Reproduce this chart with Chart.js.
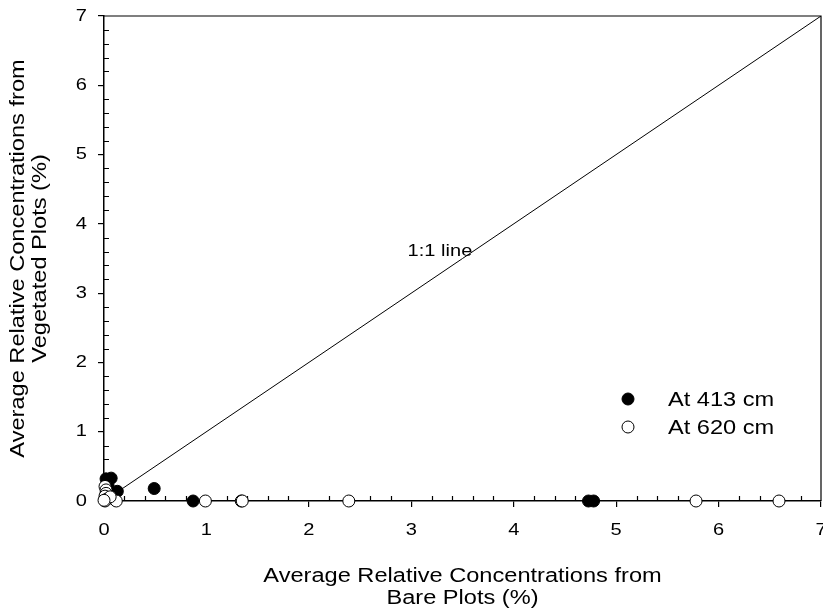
<!DOCTYPE html>
<html>
<head>
<meta charset="utf-8">
<script src="https://cdn.jsdelivr.net/npm/chart.js@4/dist/chart.umd.min.js"></script>
<style>
  html, body { margin: 0; padding: 0; background: #fff; overflow: hidden; }
  #wrap { width: 823px; height: 609px; }
</style>
</head>
<body>
<div id="wrap"><canvas id="c" width="823" height="609"></canvas></div>
<script>
// ---- data ----
const x413 = [0.02, 0.07, 0.04, 0.13, 0.49, 0.87, 4.73, 4.78];
const y413 = [0.32, 0.33, 0.22, 0.14, 0.18, 0.00, 0.00, 0.00];
const x620 = [0.01, 0.02, 0.02, 0.01, 0.03, 0.01, 0.12, 0.99, 1.34, 1.35, 2.39, 5.78, 6.59, 0.06, 0.00];
const y620 = [0.21, 0.16, 0.11, 0.07, 0.03, 0.00, 0.00, 0.00, 0.00, 0.00, 0.00, 0.00, 0.00, 0.06, 0.01];
const lineX = [0, 7];
const lineY = [0, 7];
const xTicks = [0, 1, 2, 3, 4, 5, 6, 7];
const yTicks = [0, 1, 2, 3, 4, 5, 6, 7];
const seriesLabels = ['At 413 cm', 'At 620 cm'];
const lineLabel = '1:1 line';
const lineLabelPos = [3.28, 3.61];
const xTitle = ['Average Relative Concentrations from', 'Bare Plots (%)'];
const yTitle = ['Average Relative Concentrations from', 'Vegetated Plots (%)'];

const FONT = '"Liberation Sans", Arial, Helvetica, sans-serif';
const SX = 1.18;

const canvas = document.getElementById('c');
const ctx = canvas.getContext('2d');
// render glyphs slightly wider, like the reference
const origFill = ctx.fillText.bind(ctx);
ctx.fillText = function (text, x, y, maxWidth) {
  ctx.save();
  ctx.translate(x, y);
  ctx.scale(SX, 1);
  if (maxWidth !== undefined && maxWidth !== null) origFill(text, 0, 0, maxWidth / SX);
  else origFill(text, 0, 0);
  ctx.restore();
};

const toPts = (xs, ys) => xs.map((v, i) => ({ x: v, y: ys[i] }));
const zeroPad = () => ({ left: 0, top: 0, right: 0, bottom: 0 });

const decor = {
  id: 'decor',
  beforeDatasetsDraw(chart) {
    const c = chart.ctx, a = chart.chartArea;
    const xs = chart.scales.x, ys = chart.scales.y;
    c.save();
    c.strokeStyle = '#000';
    c.lineWidth = 1.2;
    c.beginPath();
    c.moveTo(a.left, a.top); c.lineTo(a.right, a.top); c.lineTo(a.right, a.bottom);
    c.stroke();
    c.beginPath();
    for (let i = 0; i < 7; i++) {
      for (let k = 1; k < 5; k++) {
        const v = i + k * 0.2;
        const px = Math.round(xs.getPixelForValue(v)) + 0.5;
        c.moveTo(px, a.bottom); c.lineTo(px, a.bottom - 5);
        const py = Math.round(ys.getPixelForValue(v)) + 0.5;
        c.moveTo(a.left, py); c.lineTo(a.left + 5, py);
      }
    }
    c.stroke();
    c.restore();
  },
  afterDatasetsDraw(chart) {
    const c = chart.ctx, a = chart.chartArea;
    const xs = chart.scales.x, ys = chart.scales.y;
    c.save();
    c.fillStyle = '#000';
    c.font = '17px ' + FONT;
    c.textAlign = 'center';
    c.textBaseline = 'middle';
    c.fillText(lineLabel, xs.getPixelForValue(lineLabelPos[0]), ys.getPixelForValue(lineLabelPos[1]));
    const lx = a.left + 524, ly = a.top + 383, gap = 28;
    chart.data.datasets.slice(0, 2).forEach((ds, i) => {
      const yy = ly + i * gap;
      c.beginPath();
      c.arc(lx, yy, 6, 0, Math.PI * 2);
      c.fillStyle = ds.backgroundColor;
      c.fill();
      c.lineWidth = 1;
      c.strokeStyle = '#000';
      c.stroke();
      c.fillStyle = '#000';
      c.font = '20px ' + FONT;
      c.textAlign = 'left';
      c.textBaseline = 'middle';
      c.fillText(ds.label, lx + 40, yy + 1);
    });
    c.restore();
  }
};

new Chart(canvas, {
  type: 'scatter',
  data: {
    datasets: [
      {
        label: seriesLabels[0],
        data: toPts(x413, y413),
        backgroundColor: '#000',
        borderColor: '#000',
        borderWidth: 1,
        pointRadius: 6,
        order: 1,
        clip: false
      },
      {
        label: seriesLabels[1],
        data: toPts(x620, y620),
        backgroundColor: '#fff',
        borderColor: '#000',
        borderWidth: 1,
        pointRadius: 6,
        order: 0,
        clip: false
      },
      {
        label: lineLabel,
        type: 'line',
        data: toPts(lineX, lineY),
        borderColor: '#000',
        borderWidth: 1,
        pointRadius: 0,
        showLine: true,
        fill: false,
        order: 2
      }
    ]
  },
  options: {
    responsive: false,
    animation: false,
    devicePixelRatio: 1,
    layout: { autoPadding: false, padding: { top: 16, right: 2, left: 0, bottom: 0 } },
    plugins: { legend: { display: false }, tooltip: { enabled: false } },
    scales: {
      x: {
        type: 'linear', min: 0, max: 7,
        afterBuildTicks(s) { s.ticks = xTicks.map(v => ({ value: v })); },
        afterFit(s) {
          s.height = 108; s.paddingLeft = 0; s.paddingRight = 0;
          s.getPadding = zeroPad;
        },
        ticks: { color: '#000', font: { family: FONT, size: 17 }, padding: 13, maxRotation: 0, autoSkip: false },
        grid: { drawOnChartArea: false, drawTicks: true, tickLength: 6, color: '#000', lineWidth: 1.2 },
        border: { display: true, color: '#000', width: 1.5 },
        title: { display: true, text: xTitle, color: '#000', font: { family: FONT, size: 20, lineHeight: 1.1 }, padding: { top: 0, bottom: 0 } }
      },
      y: {
        type: 'linear', min: 0, max: 7,
        afterBuildTicks(s) { s.ticks = yTicks.map(v => ({ value: v })); },
        afterFit(s) {
          s.width = 104; s.paddingTop = 0; s.paddingBottom = 0;
          s.getPadding = zeroPad;
        },
        ticks: { color: '#000', font: { family: FONT, size: 17 }, padding: 11, autoSkip: false },
        grid: { drawOnChartArea: false, drawTicks: true, tickLength: 6, color: '#000', lineWidth: 1.2 },
        border: { display: true, color: '#000', width: 1.5 },
        title: { display: true, text: yTitle, color: '#000', font: { family: FONT, size: 20, lineHeight: 1.1 }, padding: { top: 7, bottom: 0 } }
      }
    }
  },
  plugins: [decor]
});
</script>
</body>
</html>
